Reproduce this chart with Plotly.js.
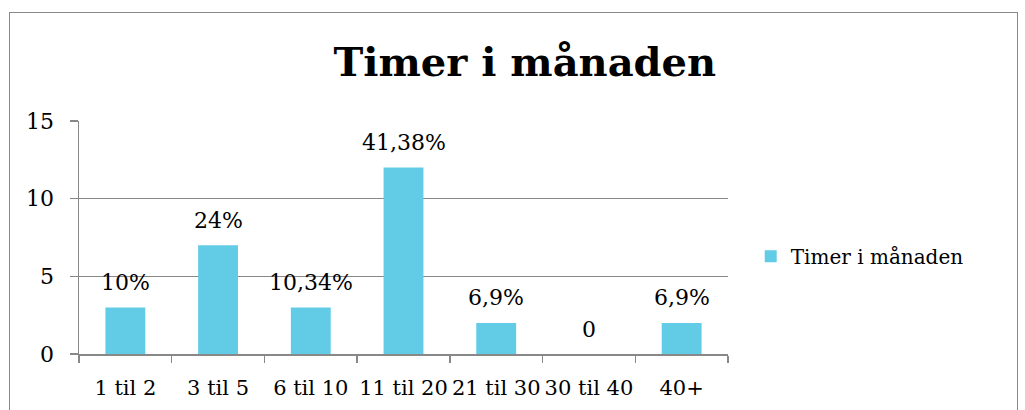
<!DOCTYPE html>
<html>
<head>
<meta charset="utf-8">
<script src="https://cdn.plot.ly/plotly-3.0.1.min.js"></script>
<style>
html,body{margin:0;padding:0;background:#fff;}
#wrap{position:relative;width:1025px;height:410px;overflow:hidden;}
#chart{width:1025px;height:410px;}
#frame{position:absolute;left:9px;top:12px;width:1007px;height:420px;border:1px solid #888;pointer-events:none;}
</style>
</head>
<body>
<div id="wrap"><div id="chart"></div><div id="frame"></div></div>
<script>
const categories = ["1 til 2", "3 til 5", "6 til 10", "11 til 20", "21 til 30", "30 til 40", "40+"];
const values = [3, 7, 3, 12, 2, 0, 2];
const labels = ["10%", "24%", "10,34%", "41,38%", "6,9%", "0", "6,9%"];
const seriesName = "Timer i månaden";
const yTicks = [0, 5, 10, 15];

const font = "DejaVu Serif, Liberation Serif, serif";

const trace = {
  type: "bar",
  x: categories,
  y: values,
  name: seriesName,
  marker: {color: "#62cbe6", line: {width: 0}},
  showlegend: true,
  hoverinfo: "x+y"
};

const annotations = categories.map((c, i) => ({
  x: c, y: values[i], xref: "x", yref: "y",
  text: labels[i], showarrow: false,
  yanchor: "middle", yshift: 25,
  font: {family: font, size: 22, color: "#000"}
}));

const layout = {
  width: 1025, height: 410,
  margin: {l: 79, r: 297, t: 121, b: 56},
  paper_bgcolor: "#fff", plot_bgcolor: "#fff",
  title: {
    text: "<b>Timer i månaden</b>",
    font: {family: font, size: 40, color: "#000"},
    x: 0.512, xanchor: "center", y: 0.85, yanchor: "middle"
  },
  bargap: 0.57,
  xaxis: {
    type: "category",
    showline: true, linecolor: "#888", linewidth: 1.5,
    ticks: "outside", tickson: "boundaries", ticklen: 7, tickcolor: "#888", tickwidth: 1.5,
    showgrid: false,
    tickangle: 0,
    tickfont: {family: font, size: 21, color: "#000"},
    ticklabelstandoff: 14,
    fixedrange: true
  },
  yaxis: {
    range: [0, 15],
    tickvals: yTicks,
    showline: true, linecolor: "#888", linewidth: 1.5,
    ticks: "outside", ticklen: 8, tickcolor: "#888", tickwidth: 1.5,
    showgrid: true, gridcolor: "#888", gridwidth: 1.5,
    zeroline: false,
    tickfont: {family: font, size: 22, color: "#000"},
    ticklabelstandoff: 11,
    fixedrange: true
  },
  legend: {
    x: 1.035, xanchor: "left", y: 0.42, yanchor: "middle",
    font: {family: font, size: 20, color: "#000"},
    bgcolor: "rgba(0,0,0,0)", itemwidth: 30
  },
  annotations: annotations,
  showlegend: true
};

Plotly.newPlot("chart", [trace], layout, {displayModeBar: false, staticPlot: true});
</script>
</body>
</html>
